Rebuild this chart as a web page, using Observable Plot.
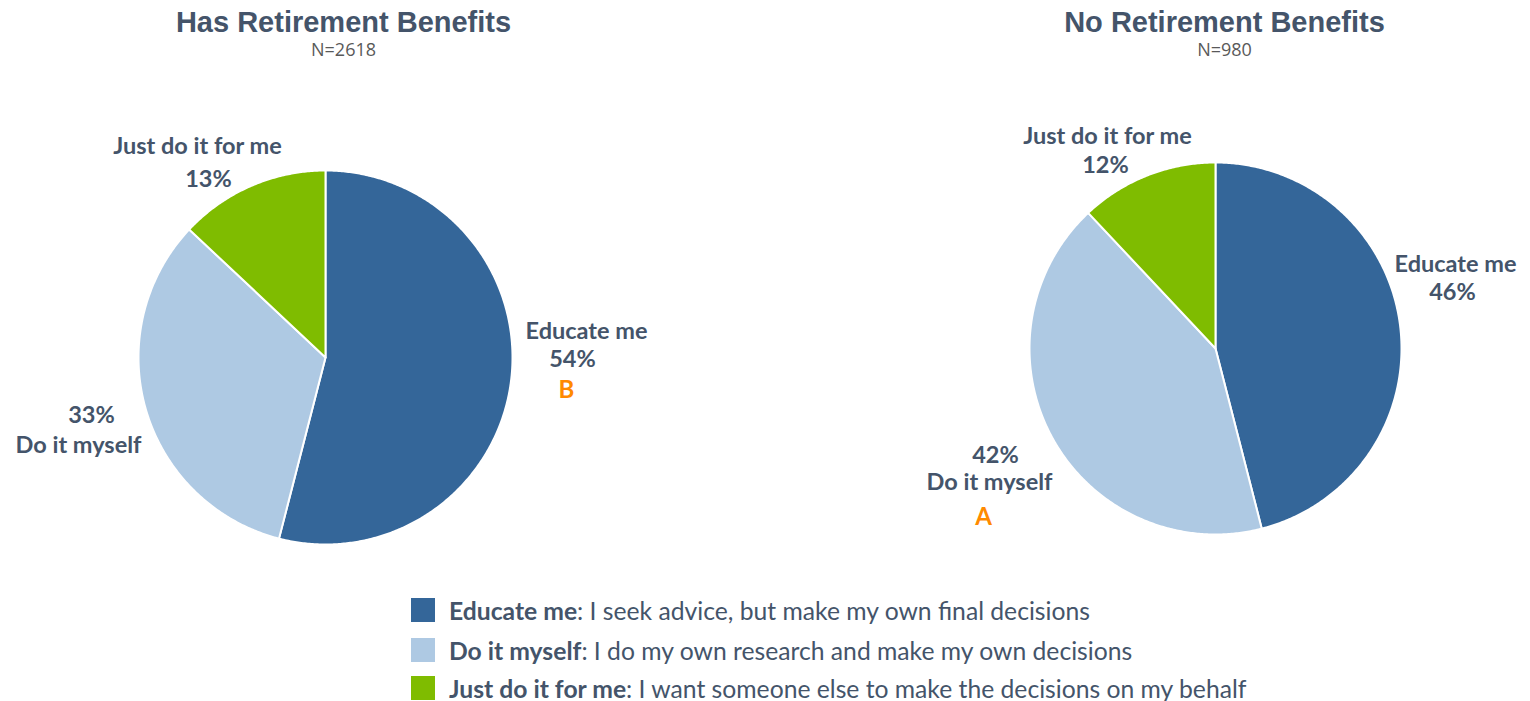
<!DOCTYPE html>
<html>
<head>
<meta charset="utf-8">
<script src="https://cdn.jsdelivr.net/npm/d3@7"></script>
<script src="https://cdn.jsdelivr.net/npm/@observablehq/plot@0.6"></script>
<style>
  html, body { margin: 0; padding: 0; background: #fff; }
  #chart { width: 1530px; }
  .legend { position: relative; height: 116px; font-family: Lato, "Open Sans", sans-serif; color: #44546A; font-size: 24.7px; }
  .legend .row { position: absolute; left: 411px; display: flex; align-items: center; height: 26px; white-space: nowrap; }
  .legend .sw { width: 24px; height: 24px; margin-right: 14px; flex: none; }
  .legend b { font-weight: 700; }
</style>
</head>
<body>
<div id="chart"></div>
<script>
// ---- data ----
const categories = ["Educate me", "Do it myself", "Just do it for me"];
const categoryColors = ["#346699", "#AEC9E3", "#7FBC00"];
const groups = ["Has Retirement Benefits", "No Retirement Benefits"];
const sampleSizes = [2618, 980];
const hasBenefitsValues = [54, 33, 13];
const noBenefitsValues = [46, 42, 12];
const hasBenefitsLetters = ["B", "", ""];
const noBenefitsLetters = ["", "A", ""];
const legendDescriptions = [
  "I seek advice, but make my own final decisions",
  "I do my own research and make my own decisions",
  "I want someone else to make the decisions on my behalf"
];

// ---- layout (pixel units of the scales) ----
const W = 1530, H = 585;
const pieLayout = [
  {cx: 325, cy: 357, r: 187, titleX: 343},
  {cx: 1215, cy: 348, r: 186, titleX: 1224}
];
// label anchors per pie, per category: [name, pct, letter], each [x,y]
const labelLayout = [
  [
    {name: [586, 331], pct: [572, 359], letter: [566, 390]},
    {name: [78, 445], pct: [91, 415], letter: [85, 478]},
    {name: [197, 146], pct: [208, 179], letter: [200, 210]}
  ],
  [
    {name: [1455, 264], pct: [1452, 292], letter: [1450, 322]},
    {name: [989, 482], pct: [995, 455], letter: [983, 517]},
    {name: [1107, 136], pct: [1105, 165], letter: [1105, 195]}
  ]
];

const pieValues = [hasBenefitsValues, noBenefitsValues];
const pieLetters = [hasBenefitsLetters, noBenefitsLetters];

// build slice polygons
const slicePoints = [];
const labels = [];
pieValues.forEach((vals, p) => {
  const {cx, cy, r} = pieLayout[p];
  const total = d3.sum(vals);
  let cum = 0;
  vals.forEach((v, i) => {
    const a0 = cum / total * 2 * Math.PI;
    cum += v;
    const a1 = cum / total * 2 * Math.PI;
    const key = p + "-" + i;
    slicePoints.push({key, cat: categories[i], x: cx, y: cy});
    const n = Math.max(2, Math.ceil((a1 - a0) / (Math.PI / 360)));
    for (let k = 0; k <= n; k++) {
      const t = a0 + (a1 - a0) * k / n;
      slicePoints.push({key, cat: categories[i], x: cx + r * Math.sin(t), y: cy - r * Math.cos(t)});
    }
    slicePoints.push({key, cat: categories[i], x: cx, y: cy});
    const L = labelLayout[p][i];
    labels.push({x: L.name[0], y: L.name[1], text: categories[i], kind: "label"});
    labels.push({x: L.pct[0], y: L.pct[1], text: v + "%", kind: "label"});
    if (pieLetters[p][i]) labels.push({x: L.letter[0], y: L.letter[1], text: pieLetters[p][i], kind: "letter"});
  });
});

const titles = groups.map((g, p) => ({x: pieLayout[p].titleX, y: 22, text: g}));
const subtitles = sampleSizes.map((n, p) => ({x: pieLayout[p].titleX, y: 50, text: "N=" + n}));

const plot = Plot.plot({
  width: W,
  height: H,
  margin: 0,
  x: {domain: [0, W], range: [0, W], axis: null},
  y: {domain: [0, H], range: [0, H], axis: null},
  color: {domain: categories, range: categoryColors},
  style: {background: "#fff"},
  marks: [
    Plot.line(slicePoints, {x: "x", y: "y", z: "key", fill: "cat", stroke: "white", strokeWidth: 2, strokeLinejoin: "round", curve: "linear"}),
    Plot.text(titles, {x: "x", y: "y", text: "text", fontSize: 29, fontWeight: "bold", fontFamily: "Liberation Sans, Arial, sans-serif", fill: "#44546A"}),
    Plot.text(subtitles, {x: "x", y: "y", text: "text", fontSize: 18, fontFamily: "Open Sans, sans-serif", fill: "#595959"}),
    Plot.text(labels.filter(d => d.kind === "label"), {x: "x", y: "y", text: "text", fontSize: 23.5, fontWeight: "bold", fontFamily: "Lato, Open Sans, sans-serif", fill: "#44546A"}),
    Plot.text(labels.filter(d => d.kind === "letter"), {x: "x", y: "y", text: "text", fontSize: 24, fontWeight: "bold", fontFamily: "Lato, Open Sans, sans-serif", fill: "#FF8A00"})
  ]
});
document.getElementById("chart").appendChild(plot);

// legend
const legend = document.createElement("div");
legend.className = "legend";
const rowTops = [12, 52, 90];
categories.forEach((c, i) => {
  const row = document.createElement("div");
  row.className = "row";
  row.style.top = rowTops[i] + "px";
  const sw = document.createElement("span");
  sw.className = "sw";
  sw.style.background = categoryColors[i];
  const txt = document.createElement("span");
  const b = document.createElement("b");
  b.textContent = c;
  txt.appendChild(b);
  txt.appendChild(document.createTextNode(": " + legendDescriptions[i]));
  row.appendChild(sw);
  row.appendChild(txt);
  legend.appendChild(row);
});
document.getElementById("chart").appendChild(legend);
</script>
</body>
</html>
